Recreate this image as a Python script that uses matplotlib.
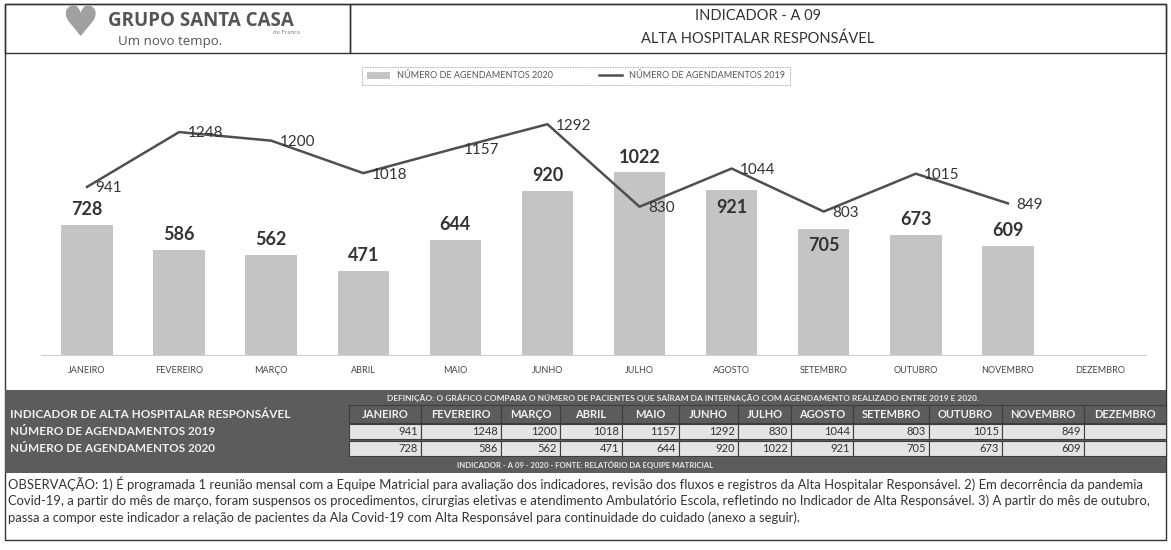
import matplotlib

matplotlib.use("Agg")

import matplotlib.pyplot as plt
import numpy as np
from matplotlib.patches import Rectangle

plt.rcParams["font.family"] = ["Lato", "DejaVu Sans"]

months = ["JANEIRO", "FEVEREIRO", "MARÇO", "ABRIL", "MAIO", "JUNHO", "JULHO",
          "AGOSTO", "SETEMBRO", "OUTUBRO", "NOVEMBRO", "DEZEMBRO"]
agend_2019 = [941, 1248, 1200, 1018, 1157, 1292, 830, 1044, 803, 1015, 849, np.nan]
agend_2020 = [728, 586, 562, 471, 644, 920, 1022, 921, 705, 673, 609, np.nan]
# bar labels that Excel placed inside the bar (to dodge the line labels)
inside_labels = ["AGOSTO", "SETEMBRO"]

label_2019 = "NÚMERO DE AGENDAMENTOS 2019"
label_2020 = "NÚMERO DE AGENDAMENTOS 2020"
definicao = ("DEFINIÇÃO: O GRÁFICO COMPARA O NÚMERO DE PACIENTES QUE SAÍRAM DA INTERNAÇÃO "
             "COM AGENDAMENTO REALIZADO ENTRE 2019 E 2020.")
fonte = "INDICADOR - A 09 - 2020 - FONTE: RELATÓRIO DA EQUIPE MATRICIAL"
observacao = [
    "OBSERVAÇÃO: 1) É programada 1 reunião mensal com a Equipe Matricial para avaliação dos indicadores, "
    "revisão dos fluxos e registros da Alta Hospitalar Responsável. 2) Em decorrência da pandemia",
    "Covid-19, a partir do mês de março, foram suspensos os procedimentos, cirurgias eletivas e atendimento "
    "Ambulatório Escola, refletindo no Indicador de Alta Responsável. 3) A partir do mês de outubro,",
    "passa a compor este indicador a relação de pacientes da Ala Covid-19 com Alta Responsável para "
    "continuidade do cuidado (anexo a seguir).",
]

W, H = 1171, 550
DARK = "#5c5c5c"
CELL = "#e4e4e4"
BAR = "#c4c4c4"
LINE = "#4f4f4f"

fig = plt.figure(figsize=(W / 100, H / 100), dpi=100)


def fx(x):
    return x / W


def fy(y):
    return 1 - y / H


def rect(x0, y0, x1, y1, fc, ec="none", lw=0.8):
    fig.patches.append(Rectangle((fx(x0), fy(y1)), (x1 - x0) / W, (y1 - y0) / H,
                                 transform=fig.transFigure, fc=fc, ec=ec, lw=lw))


def text(x, y, s, **kw):
    fig.text(fx(x), fy(y), s, **kw)


# outer frame and header
rect(5, 4, 1166, 540, "white", ec="#333333", lw=1.0)
rect(5, 4, 350, 53, "none", ec="#333333", lw=1.0)
rect(350, 4, 1166, 53, "none", ec="#333333", lw=1.0)
text(80, 24, "♥", fontsize=30, color="#a0a0a0", ha="center", va="center", family="DejaVu Sans")
text(108, 21, "GRUPO SANTA CASA", fontsize=13.5, fontweight="bold", color="#555555",
     va="center", family="Open Sans")
text(300, 32, "de Franca", fontsize=4.5, color="#888888", ha="right", va="center")
text(170, 42, "Um novo tempo.", fontsize=9.5, color="#555555", ha="center", va="center",
     family="Open Sans")
text(758, 16, "INDICADOR - A 09", fontsize=10.5, color="#333333", ha="center", va="center")
text(758, 39, "ALTA HOSPITALAR RESPONSÁVEL", fontsize=10.5, color="#333333", ha="center", va="center")

# chart
base_y, top_y = 355, 96
ax = fig.add_axes([fx(41), fy(base_y), (1146 - 41) / W, (base_y - top_y) / H])
ax.set_zorder(5)
ax.patch.set_alpha(0)
x = np.arange(len(months))
bars = ax.bar(x, agend_2020, width=0.56, color=BAR, label=label_2020, zorder=2)
(line,) = ax.plot(x, agend_2019, color=LINE, linewidth=1.8, label=label_2019, zorder=3)
for xi, m, v in zip(x, months, agend_2020):
    if np.isnan(v):
        continue
    if m in inside_labels:
        ax.annotate(f"{v:.0f}", (xi, v), xytext=(0, -6), textcoords="offset points",
                    ha="center", va="top", fontsize=13, fontweight="bold", color="#333333")
    else:
        ax.annotate(f"{v:.0f}", (xi, v), xytext=(0, 5), textcoords="offset points",
                    ha="center", va="bottom", fontsize=13, fontweight="bold", color="#333333")
for xi, v in zip(x, agend_2019):
    if not np.isnan(v):
        ax.annotate(f"{v:.0f}", (xi, v), xytext=(6, -1), textcoords="offset points",
                    ha="left", va="center", fontsize=11, color="#333333")
ax.set_xlim(-0.5, len(months) - 0.5)
ax.set_ylim(0, 1450)
ax.set_xticks(x, months, fontsize=6.5, color="#444444")
ax.tick_params(axis="x", length=0, pad=8)
ax.set_yticks([])
for side in ["top", "right", "left"]:
    ax.spines[side].set_visible(False)
ax.spines["bottom"].set_color("#d0d0d0")
leg = ax.legend([bars, line], [label_2020, label_2019], loc="center",
                bbox_to_anchor=(fx(576), fy(76)), bbox_transform=fig.transFigure,
                ncol=2, fontsize=6.5, frameon=True, fancybox=False, borderpad=0.5,
                handlelength=2.6, columnspacing=5, labelcolor="#555555")
leg.get_frame().set_edgecolor("#999999")
leg.get_frame().set_linestyle((0, (2, 1)))
leg.get_frame().set_linewidth(0.6)

# table
edges = [5, 349, 421, 501, 560, 622, 679, 738, 791, 853, 929, 1002, 1084, 1166]
rows_y = [390, 405, 423, 440, 457, 473]
rect(5, rows_y[0], 1166, rows_y[1], DARK)
text(683, (rows_y[0] + rows_y[1]) / 2, definicao, fontsize=6.0, fontweight="bold", color="#e6e6e6",
     ha="center", va="center")
rect(5, rows_y[1], 1166, rows_y[4], DARK)
text(10, (rows_y[1] + rows_y[2]) / 2, "INDICADOR DE ALTA HOSPITALAR RESPONSÁVEL", fontsize=8.5,
     fontweight="bold", color="#f0f0f0", va="center")
for i, m in enumerate(months):
    x0, x1 = edges[i + 1], edges[i + 2]
    rect(x0, rows_y[1], x1, rows_y[2], "none", ec="#3e3e3e", lw=0.8)
    text((x0 + x1) / 2, (rows_y[1] + rows_y[2]) / 2, m, fontsize=8, fontweight="bold",
         color="#f0f0f0", ha="center", va="center")
for r, (lab, vals) in enumerate([(label_2019, agend_2019), (label_2020, agend_2020)]):
    y0, y1 = rows_y[2 + r], rows_y[3 + r]
    text(10, (y0 + y1) / 2, lab, fontsize=8.5, fontweight="bold", color="#f0f0f0", va="center")
    for i, v in enumerate(vals):
        x0, x1 = edges[i + 1], edges[i + 2]
        rect(x0, y0 + 1, x1, y1 - 1, CELL, ec="#3e3e3e", lw=0.8)
        if not np.isnan(v):
            text(x1 - 3, (y0 + y1) / 2, f"{v:.0f}", fontsize=8, color="#333333",
                 ha="right", va="center")
rect(5, rows_y[4], 1166, rows_y[5], DARK)
text(585, (rows_y[4] + rows_y[5]) / 2, fonte, fontsize=5.6, fontweight="bold", color="#e6e6e6",
     ha="center", va="center")
for i, line_txt in enumerate(observacao):
    text(8, 484 + i * 17, line_txt, fontsize=9.4, color="#333333", va="center")

fig.savefig("out.png", dpi=100)
